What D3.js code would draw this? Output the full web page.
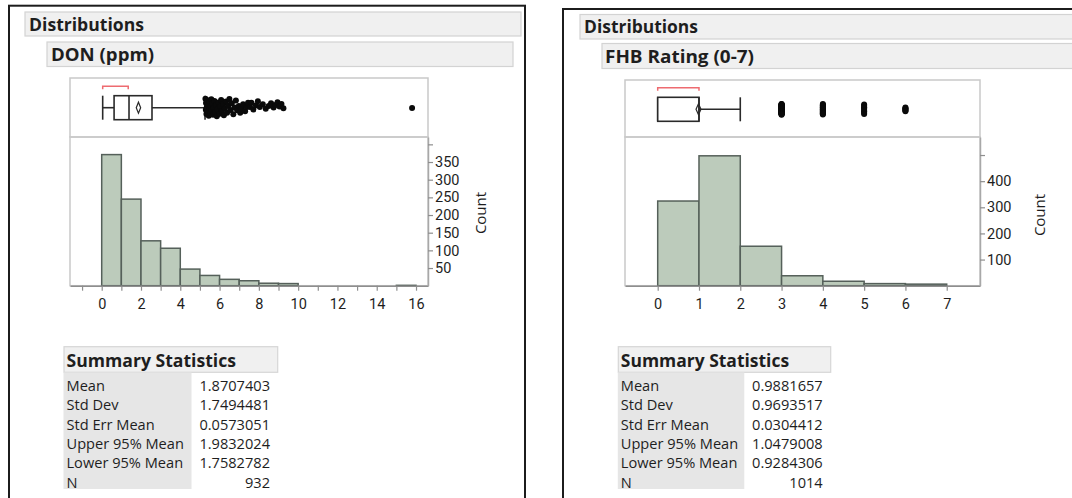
<!DOCTYPE html>
<html>
<head>
<meta charset="utf-8">
<script src="https://cdn.jsdelivr.net/npm/d3@7"></script>
<style>
  body { margin: 0; background: #fff; }
  svg text { font-family: "Open Sans", "Noto Sans", sans-serif; fill: #1e1e1e; }
</style>
</head>
<body>
<svg id="chart" width="1072" height="498"></svg>
<script>
// ---- DON (ppm) data ----
var donBinStart = [0, 1, 2, 3, 4, 5, 6, 7, 8, 9, 15];
var donCounts = [371, 245, 127, 106, 47, 29, 18, 14, 7, 6, 1];
var donBox = [0.05, 0.63, 1.39, 2.56, 5.26];   // low whisker, q1, median, q3, high whisker
var donShortHalf = [0.05, 1.35];
var donOutliers = [5.28, 5.3, 5.31, 5.33, 5.35, 5.38, 5.4, 5.42, 5.45, 5.47, 5.49, 5.52, 5.55,
  5.58, 5.6, 5.63, 5.67, 5.7, 5.74, 5.78, 5.82, 5.86, 5.9, 5.95, 6.0, 6.04, 6.08, 6.12,
  6.18, 6.22, 6.27, 6.33, 6.38, 6.44, 6.5, 6.56, 6.62, 6.7, 6.76, 6.83, 6.9, 6.98, 7.05,
  7.12, 7.2, 7.3, 7.38, 7.45, 7.55, 7.62, 7.72, 7.85, 7.95, 8.05, 8.2, 8.35, 8.5, 8.62,
  8.75, 8.85, 8.95, 9.05, 9.15, 9.25, 15.8];
var donXTicks = [-1, 0, 1, 2, 3, 4, 5, 6, 7, 8, 9, 10, 11, 12, 13, 14, 15, 16];
var donXLabels = [0, 2, 4, 6, 8, 10, 12, 14, 16];
var donCountTicks = [50, 100, 150, 200, 250, 300, 350, 400];
var donCountLabels = ["50", "100", "150", "200", "250", "300", "350", ""];
var donStatValues = ["1.8707403", "1.7494481", "0.0573051", "1.9832024", "1.7582782", "932"];

// ---- FHB Rating (0-7) data ----
var fhbBinStart = [0, 1, 2, 3, 4, 5, 6];
var fhbCounts = [324, 497, 151, 38, 17, 8, 6];
var fhbBox = [0, 0, 1, 1, 2];
var fhbShortHalf = [0, 1];
var fhbXTicks = [0, 1, 2, 3, 4, 5, 6, 7];
var fhbXLabels = [0, 1, 2, 3, 4, 5, 6, 7];
var fhbCountTicks = [100, 200, 300, 400, 500];
var fhbCountLabels = ["100", "200", "300", "400", ""];
var fhbStatValues = ["0.9881657", "0.9693517", "0.0304412", "1.0479008", "0.9284306", "1014"];

var statNames = ["Mean", "Std Dev", "Std Err Mean", "Upper 95% Mean", "Lower 95% Mean", "N"];

var svg = d3.select("#chart");
svg.append("rect").attr("width", 1072).attr("height", 498).attr("fill", "#fff");

function header(x, y, w, h, label, tx, ty, len, size) {
  svg.append("rect").attr("x", x).attr("y", y).attr("width", w).attr("height", h)
    .attr("fill", "#f0f0f0").attr("stroke", "#d3d3d3").attr("stroke-width", 1.2);
  svg.append("text").attr("x", tx).attr("y", ty)
    .attr("font-size", size).attr("font-weight", "bold").attr("fill", "#111")
    .attr("textLength", len).attr("lengthAdjust", "spacingAndGlyphs")
    .text(label);
}

function drawDistribution(p) {
  var x = d3.scaleLinear().domain(p.xDomain).range([p.x0, p.x1]);
  var y = d3.scaleLinear().domain([0, p.yMax]).range([p.yBase, p.histTop]);
  var cy = p.boxMid;

  // outline and headers
  svg.append("rect").attr("x", p.border[0]).attr("y", p.border[1])
    .attr("width", p.border[2]).attr("height", 700)
    .attr("fill", "none").attr("stroke", "#1c1c1c").attr("stroke-width", 2);
  header(p.h1[0], p.h1[1], p.h1[2], p.h1[3], "Distributions", p.h1[4], p.h1[5], p.h1[6], 17);
  header(p.h2[0], p.h2[1], p.h2[2], p.h2[3], p.title, p.h2[4], p.h2[5], p.h2[6], 17);

  // frames
  svg.append("rect").attr("x", p.x0).attr("y", p.boxTop)
    .attr("width", p.x1 - p.x0).attr("height", p.histTop - p.boxTop)
    .attr("fill", "#fff").attr("stroke", "#c9c9c9").attr("stroke-width", 1.5);
  svg.append("rect").attr("x", p.x0).attr("y", p.histTop)
    .attr("width", p.x1 - p.x0).attr("height", p.yBase - p.histTop)
    .attr("fill", "none").attr("stroke", "#c9c9c9").attr("stroke-width", 1.5);

  // histogram bars
  var bins = p.binStart.map(function(s, i) { return { start: s, count: p.counts[i] }; });
  svg.append("g").selectAll("rect")
    .data(bins)
    .enter()
    .append("rect")
    .attr("x", d => x(d.start))
    .attr("width", d => x(d.start + 1) - x(d.start))
    .attr("y", d => y(d.count))
    .attr("height", d => y(0) - y(d.count))
    .attr("fill", "#bccbbb")
    .attr("stroke", "#55605a")
    .attr("stroke-width", 1.5);

  // axes
  var xAxis = d3.axisBottom(x).tickValues(p.xTicks).tickSize(5).tickSizeOuter(0).tickPadding(8)
    .tickFormat(d => p.xLabels.indexOf(d) >= 0 ? d : "");
  var gx = svg.append("g").attr("transform", `translate(0, ${p.yBase})`).call(xAxis);
  gx.select(".domain").attr("stroke", "#8e8e8e").attr("stroke-width", 1.5);
  gx.selectAll(".tick line").attr("stroke", "#8e8e8e").attr("stroke-width", 1.2);
  gx.selectAll("text").attr("font-size", 14.5).attr("fill", "#222")
    .style("font-family", 'Roboto, "Open Sans", sans-serif');

  var yAxis = d3.axisRight(y).tickValues(p.countTicks).tickSize(5).tickSizeOuter(0).tickPadding(2)
    .tickFormat((d, i) => p.countLabels[i]);
  var gy = svg.append("g").attr("transform", `translate(${p.x1}, 0)`).call(yAxis);
  gy.select(".domain").attr("stroke", "#a8a8a8").attr("stroke-width", 1.5);
  gy.selectAll(".tick line").attr("stroke", "#8e8e8e").attr("stroke-width", 1.2);
  gy.selectAll("text").attr("font-size", 14.5).attr("fill", "#222")
    .style("font-family", 'Roboto, "Open Sans", sans-serif');

  svg.append("text")
    .attr("transform", `translate(${p.countX}, ${p.countY}) rotate(-90)`)
    .attr("text-anchor", "middle")
    .attr("font-size", 15).attr("fill", "#222")
    .text("Count");

  // box plot
  var b = p.box;
  var bg = svg.append("g").attr("fill", "none").attr("stroke", "#2a2a2a").attr("stroke-width", 1.6);
  bg.append("line").attr("x1", x(b[0])).attr("x2", x(b[1])).attr("y1", cy).attr("y2", cy);
  bg.append("line").attr("x1", x(b[3])).attr("x2", x(b[4])).attr("y1", cy).attr("y2", cy);
  bg.append("line").attr("x1", x(b[0])).attr("x2", x(b[0])).attr("y1", cy - 12).attr("y2", cy + 12);
  bg.append("line").attr("x1", x(b[4])).attr("x2", x(b[4])).attr("y1", cy - 12).attr("y2", cy + 12);
  bg.append("rect").attr("x", x(b[1])).attr("y", cy - 12)
    .attr("width", x(b[3]) - x(b[1])).attr("height", 24).attr("fill", "#fff");
  bg.append("line").attr("x1", x(b[2])).attr("x2", x(b[2])).attr("y1", cy - 12).attr("y2", cy + 12);

  var mean = +p.stats[0], hi = +p.stats[3], lo = +p.stats[4];
  bg.append("path")
    .attr("d", `M${x(lo)},${cy} L${x(mean)},${cy - 5.5} L${x(hi)},${cy} L${x(mean)},${cy + 5.5} Z`)
    .attr("stroke-width", 1.2);

  var by = cy - 21.5;
  svg.append("path")
    .attr("d", `M${x(p.shortHalf[0])},${by + 3} V${by} H${x(p.shortHalf[1])} V${by + 3}`)
    .attr("fill", "none").attr("stroke", "#ee6b70").attr("stroke-width", 1.5);

  // outliers
  svg.append("g").selectAll("circle")
    .data(p.outliers)
    .enter()
    .append("circle")
    .attr("cx", d => x(d.v))
    .attr("cy", d => cy + d.dy)
    .attr("r", 3)
    .attr("fill", "#0a0a0a");

  // summary statistics
  var s = p.table;
  svg.append("rect").attr("x", s.x0).attr("y", 346.7).attr("width", s.x1 - s.x0).attr("height", 25.6)
    .attr("fill", "#f0f0f0").attr("stroke", "#d6d6d6").attr("stroke-width", 1.2);
  svg.append("text").attr("x", s.x0 + 2.5).attr("y", 366.5)
    .attr("font-size", 18).attr("font-weight", "bold").attr("fill", "#111")
    .attr("textLength", s.len).attr("lengthAdjust", "spacingAndGlyphs")
    .text("Summary Statistics");
  svg.append("rect").attr("x", s.x0 - 0.5).attr("y", 372.5).attr("width", s.labelW).attr("height", 116.5)
    .attr("fill", "#e6e6e6");
  statNames.forEach(function(name, i) {
    svg.append("text").attr("x", s.x0 + 2.5).attr("y", 390.7 + i * 19.4)
      .attr("font-size", 14.6).attr("fill", "#222").text(name);
    svg.append("text").attr("x", s.valueX).attr("y", 390.7 + i * 19.4)
      .attr("font-size", 14.6).attr("fill", "#222").attr("text-anchor", "end").text(p.stats[i]);
  });
}

// jitter for the DON outliers: spread shrinks where points thin out
var donOutPts = donOutliers.map(function(v, i) {
  var spread = v < 6.9 ? 9 : (v < 8 ? 5.5 : 3.5);
  var frac = (i * 0.618034) % 1;
  return { v: v, dy: (frac - 0.5) * 2 * spread - (v > 7.5 && v < 10 ? 2.5 : 0) };
});

// FHB ratings are whole numbers: outliers are the counts above the whisker, stacked vertically
var fhbOutPts = [];
fhbBinStart.forEach(function(v, i) {
  if (v <= fhbBox[4]) return;
  var n = fhbCounts[i];
  var half = n >= 8 ? 5.5 : 2.2;
  for (var k = 0; k < n; k++) {
    fhbOutPts.push({ v: v, dy: ((k + 0.5) / n - 0.5) * 2 * half });
  }
});

drawDistribution({
  title: "DON (ppm)",
  border: [9, 5.7, 516],
  h1: [25, 12, 496, 24, 29, 30.5, 115],
  h2: [47, 42, 466, 24.5, 51, 60.5, 103],
  x0: 70, x1: 428, xDomain: [-1.614, 16.61],
  boxTop: 78, histTop: 137, yBase: 285.7, yMax: 420.8, boxMid: 107.7,
  binStart: donBinStart, counts: donCounts,
  xTicks: donXTicks, xLabels: donXLabels,
  countTicks: donCountTicks, countLabels: donCountLabels,
  countX: 486, countY: 213,
  box: donBox, shortHalf: donShortHalf, outliers: donOutPts,
  stats: donStatValues,
  table: { x0: 64, x1: 277.7, labelW: 128, valueX: 270, len: 169.5 }
});

drawDistribution({
  title: "FHB Rating (0-7)",
  border: [563, 9, 600],
  h1: [580, 14.5, 600, 24.5, 584, 33, 114],
  h2: [602, 43.5, 600, 25, 605, 62.5, 149],
  x0: 625, x1: 980, xDomain: [-0.792, 7.806],
  boxTop: 80, histTop: 137, yBase: 285.7, yMax: 569, boxMid: 109.3,
  binStart: fhbBinStart, counts: fhbCounts,
  xTicks: fhbXTicks, xLabels: fhbXLabels,
  countTicks: fhbCountTicks, countLabels: fhbCountLabels,
  countX: 1045, countY: 215,
  box: fhbBox, shortHalf: fhbShortHalf, outliers: fhbOutPts,
  stats: fhbStatValues,
  table: { x0: 618.3, x1: 830.7, labelW: 126.5, valueX: 822.7, len: 168.3 }
});
</script>
</body>
</html>
